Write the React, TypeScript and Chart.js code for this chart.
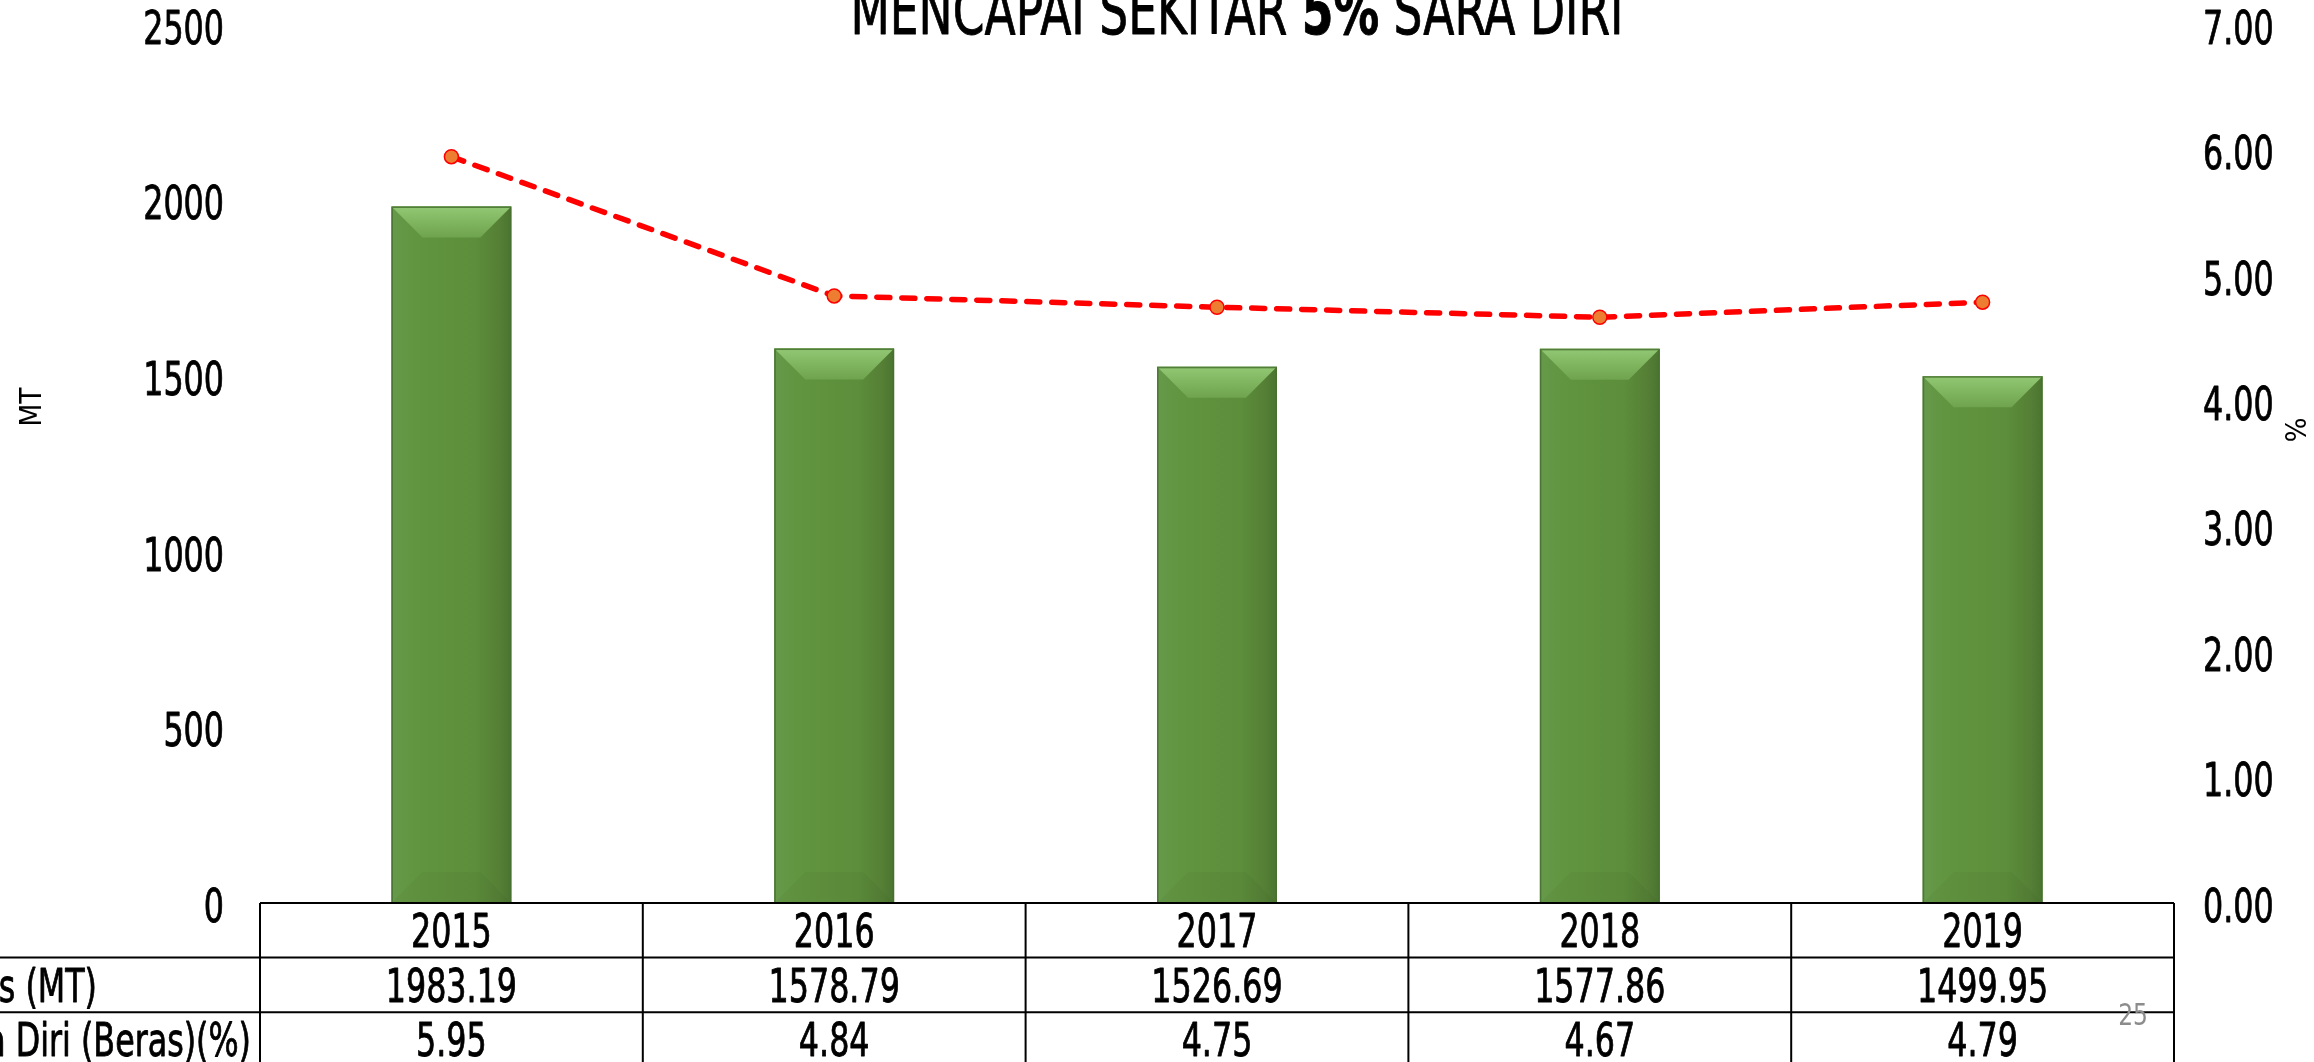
import React, { useEffect, useRef } from "react";
import { Chart, registerables } from "chart.js";

Chart.register(...registerables);

// ---------- data ----------
const categories = ["2015", "2016", "2017", "2018", "2019"];
const productionMT = [1983.19, 1578.79, 1526.69, 1577.86, 1499.95];
const selfSufficiencyPct = [5.95, 4.84, 4.75, 4.67, 4.79];
const leftTicks = [0, 500, 1000, 1500, 2000, 2500];
const rightTicks = [0, 1, 2, 3, 4, 5, 6, 7];
const tableRowLabels = ["Pengeluaran Beras (MT)", "Tahap Sara Diri (Beras)(%)"];
const titleParts = [
  { text: "MENCAPAI SEKITAR ", bold: false },
  { text: "5%", bold: true },
  { text: " SARA DIRI", bold: false },
];
const leftAxisTitle = "MT";
const rightAxisTitle = "%";
const pageNumber = "25";

// ---------- styles ----------
const FAMILY = "'DejaVu Sans', 'Liberation Sans', sans-serif";
const SX = 0.69; // horizontal compression of the slide's condensed text
const W = 2314;
const H = 1062;

function drawText(
  ctx: CanvasRenderingContext2D,
  text: string,
  x: number,
  y: number,
  align: "left" | "center" | "right",
  size: number,
  sx: number,
  color = "#000",
  weight = "normal",
  rotate = 0,
  thicken = 0
) {
  ctx.save();
  ctx.font = `${weight} ${size}px ${FAMILY}`;
  ctx.textAlign = "left";
  ctx.textBaseline = "alphabetic";
  ctx.fillStyle = color;
  ctx.strokeStyle = color;
  ctx.lineJoin = "round";
  const w = ctx.measureText(text).width * sx;
  if (rotate) {
    ctx.translate(x, y);
    ctx.rotate(rotate);
    ctx.scale(sx, 1);
    const cap = size * 0.729;
    ctx.fillText(text, -w / sx / 2, cap / 2);
  } else {
    const x0 = align === "center" ? x - w / 2 : align === "right" ? x - w : x;
    ctx.translate(x0, y);
    ctx.scale(sx, 1);
    ctx.fillText(text, 0, 0);
    if (thicken > 0) {
      ctx.lineWidth = thicken;
      ctx.strokeText(text, 0, 0);
    }
  }
  ctx.restore();
  return w;
}

const bevelPlugin = {
  id: "bevelBars",
  afterDatasetDraw(chart: any, args: any) {
    const meta = chart.getDatasetMeta(args.index);
    if (meta.type !== "bar") return;
    const ctx = chart.ctx;
    ctx.save();
    meta.data.forEach((el: any) => {
      const { x, y, base, width } = el.getProps(["x", "y", "base", "width"], true);
      const l = x - width / 2;
      const r = x + width / 2;
      const t = Math.min(y, base);
      const b = Math.max(y, base);
      const bv = Math.min(31, width * 0.26, (b - t) / 2);
      // body
      const g = ctx.createLinearGradient(l, 0, r, 0);
      g.addColorStop(0, "#66994A");
      g.addColorStop(0.2, "#62953F");
      g.addColorStop(0.7, "#5C8E3B");
      g.addColorStop(0.9, "#557F35");
      g.addColorStop(1, "#4A7530");
      ctx.fillStyle = g;
      ctx.fillRect(l, t, r - l, b - t);
      // bottom bevel (subtle)
      ctx.fillStyle = "rgba(0,0,0,0.03)";
      ctx.beginPath();
      ctx.moveTo(l, b);
      ctx.lineTo(l + bv, b - bv);
      ctx.lineTo(r - bv, b - bv);
      ctx.lineTo(r, b);
      ctx.closePath();
      ctx.fill();
      // top bevel
      const g2 = ctx.createLinearGradient(0, t, 0, t + bv);
      g2.addColorStop(0, "#92C873");
      g2.addColorStop(1, "#6FA34E");
      ctx.fillStyle = g2;
      ctx.beginPath();
      ctx.moveTo(l, t);
      ctx.lineTo(r, t);
      ctx.lineTo(r - bv, t + bv);
      ctx.lineTo(l + bv, t + bv);
      ctx.closePath();
      ctx.fill();
      // outline
      ctx.strokeStyle = "rgba(72,112,48,0.85)";
      ctx.lineWidth = 1.5;
      ctx.strokeRect(l + 0.75, t + 0.75, r - l - 1.5, b - t - 0.75);
    });
    ctx.restore();
  },
};

const annotationPlugin = {
  id: "annotations",
  afterDraw(chart: any) {
    const ctx = chart.ctx;
    const area = chart.chartArea;
    const n = categories.length;
    const cw = (area.right - area.left) / n;
    const rowH = 54.6;
    const top = area.bottom;
    const TH = 0.9; // stroke thickening
    ctx.save();

    // axis tick labels (positions from the chart's scales)
    const tSize = 46;
    const tCap = tSize * 0.729;
    const ys = chart.scales.y;
    ys.ticks.forEach((t: any) => {
      const py = ys.getPixelForValue(t.value);
      drawText(ctx, String(t.value), 224, py + tCap / 2 + 2, "right", tSize, SX, "#000", "normal", 0, TH);
    });
    const y1 = chart.scales.y1;
    y1.ticks.forEach((t: any) => {
      const py = y1.getPixelForValue(t.value);
      drawText(ctx, Number(t.value).toFixed(2), 2203, py + tCap / 2 + 2, "left", tSize, SX, "#000", "normal", 0, TH);
    });

    // title
    const titleSize = 66;
    let total = 0;
    titleParts.forEach((p) => {
      ctx.font = `${p.bold ? "bold" : "normal"} ${titleSize}px ${FAMILY}`;
      total += ctx.measureText(p.text).width * SX;
    });
    let tx = 1237 - total / 2;
    titleParts.forEach((p) => {
      tx += drawText(ctx, p.text, tx, 34, "left", titleSize, SX, "#000", p.bold ? "bold" : "normal", 0, TH);
    });

    // axis titles
    drawText(ctx, leftAxisTitle, 30, 407, "center", 30, 0.88, "#000", "normal", -Math.PI / 2);
    drawText(ctx, rightAxisTitle, 2296, 430, "center", 29, 0.9, "#000", "normal", Math.PI / 2);

    // data table
    ctx.strokeStyle = "#000";
    ctx.lineWidth = 2;
    ctx.beginPath();
    ctx.moveTo(area.left, top);
    ctx.lineTo(area.right, top);
    for (let k = 1; k <= 3; k++) {
      ctx.moveTo(0, top + k * rowH);
      ctx.lineTo(area.right, top + k * rowH);
    }
    for (let i = 0; i < n; i++) {
      const cx = chart.scales.x.getPixelForValue(i);
      ctx.moveTo(cx - cw / 2, top);
      ctx.lineTo(cx - cw / 2, H);
    }
    ctx.moveTo(area.right, top);
    ctx.lineTo(area.right, H);
    ctx.stroke();

    const fSize = 46;
    const capHalf = (fSize * 0.729) / 2;
    const rows = [
      categories,
      productionMT.map((v) => v.toFixed(2)),
      selfSufficiencyPct.map((v) => v.toFixed(2)),
    ];
    rows.forEach((row, k) => {
      const cy = top + (k + 0.5) * rowH + capHalf;
      row.forEach((txt, i) => {
        const cx = chart.scales.x.getPixelForValue(i);
        drawText(ctx, txt, cx, cy, "center", fSize, SX, "#000", "normal", 0, TH);
      });
    });
    drawText(ctx, tableRowLabels[0], 97, top + 1.5 * rowH + capHalf, "right", fSize, SX, "#000", "normal", 0, TH);
    drawText(ctx, tableRowLabels[1], 251, top + 2.5 * rowH + capHalf, "right", fSize, SX, "#000", "normal", 0, TH);

    // page number
    drawText(ctx, pageNumber, 2148, 1025, "right", 30, 0.78, "#8C8C8C");

    ctx.restore();
  },
};

export default function App() {
  const ref = useRef<HTMLCanvasElement | null>(null);

  useEffect(() => {
    if (!ref.current) return;
    const chart = new Chart(ref.current, {
      type: "bar",
      data: {
        labels: categories,
        datasets: [
          {
            type: "line",
            label: "Tahap Sara Diri (%)",
            data: selfSufficiencyPct,
            yAxisID: "y1",
            borderColor: "#FF0000",
            borderWidth: 5.5,
            borderDash: [13, 12],
            borderCapStyle: "round",
            pointRadius: 7,
            pointBackgroundColor: "#ED7D31",
            pointBorderColor: "#FF0000",
            pointBorderWidth: 1.5,
            tension: 0,
            order: 0,
          } as any,
          {
            type: "bar",
            label: "Pengeluaran (MT)",
            data: productionMT,
            yAxisID: "y",
            backgroundColor: "#5E8F3D",
            barPercentage: 0.313,
            categoryPercentage: 1,
            order: 1,
          } as any,
        ],
      },
      options: {
        animation: false,
        responsive: false,
        devicePixelRatio: 1,
        layout: { padding: { top: 25, left: 0, right: 0, bottom: 0 } },
        plugins: {
          legend: { display: false },
          title: { display: false },
          tooltip: { enabled: false },
        },
        scales: {
          x: {
            offset: true,
            grid: { display: false, drawTicks: false },
            border: { display: false },
            ticks: { display: false },
            afterFit: (s: any) => {
              s.height = 159;
              s.paddingLeft = 0;
              s.paddingRight = 0;
            },
          },
          y: {
            position: "left",
            min: 0,
            max: 2500,
            grid: { display: false, drawTicks: false },
            border: { display: false },
            ticks: { display: false },
            afterBuildTicks: (s: any) => {
              s.ticks = leftTicks.map((v) => ({ value: v }));
            },
            afterFit: (s: any) => {
              s.width = 260;
              s.paddingTop = 0;
              s.paddingBottom = 0;
            },
          },
          y1: {
            position: "right",
            min: 0,
            max: 7,
            grid: { display: false, drawTicks: false },
            border: { display: false },
            ticks: { display: false },
            afterBuildTicks: (s: any) => {
              s.ticks = rightTicks.map((v) => ({ value: v }));
            },
            afterFit: (s: any) => {
              s.width = 140;
              s.paddingTop = 0;
              s.paddingBottom = 0;
            },
          },
        },
      } as any,
      plugins: [bevelPlugin, annotationPlugin],
    });
    return () => chart.destroy();
  }, []);

  return (
    <div style={{ position: "fixed", left: 0, top: 0, width: W, height: H, background: "#fff" }}>
      <canvas ref={ref} width={W} height={H} style={{ width: W, height: H, display: "block" }} />
    </div>
  );
}
